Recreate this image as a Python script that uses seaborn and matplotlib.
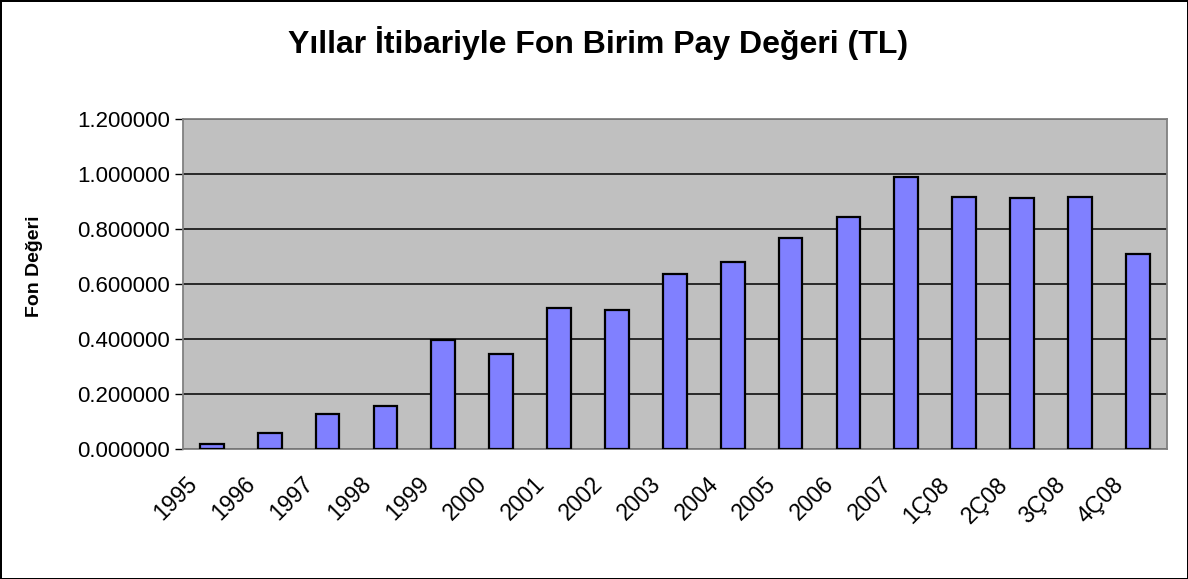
import pandas as pd
import seaborn as sns
import matplotlib.pyplot as plt
from matplotlib.ticker import FormatStrFormatter, FixedLocator
from matplotlib.transforms import ScaledTranslation

# Fund unit share values by period
periods = ['1995', '1996', '1997', '1998', '1999', '2000', '2001', '2002', '2003',
           '2004', '2005', '2006', '2007', '1Ç08', '2Ç08', '3Ç08', '4Ç08']
values = [0.020, 0.059, 0.129, 0.158, 0.397, 0.347, 0.512, 0.506, 0.637,
          0.679, 0.767, 0.845, 0.990, 0.918, 0.912, 0.918, 0.709]
y_ticks = [0.0, 0.2, 0.4, 0.6, 0.8, 1.0, 1.2]

df = pd.DataFrame({'period': periods, 'value': values})

sns.set_style('white')
plt.rcParams['font.family'] = ['Liberation Sans', 'DejaVu Sans']
plt.rcParams['text.color'] = 'black'
plt.rcParams['xtick.color'] = 'black'
plt.rcParams['ytick.color'] = 'black'
plt.rcParams['axes.labelcolor'] = 'black'

fig = plt.figure(figsize=(11.88, 5.79), dpi=100, linewidth=2, edgecolor='black')
ax = fig.add_axes([0.154, 0.2245, 0.828, 0.570])
ax.set_facecolor('#C0C0C0')

sns.barplot(data=df, x='period', y='value', color='#8080FF', saturation=1,
            edgecolor='black', linewidth=1.6, width=0.41, ax=ax, zorder=3)

ax.set_xlim(-0.5, len(periods) - 0.5)
ax.set_ylim(0, 1.2)
ax.set_yticks(y_ticks)
ax.yaxis.set_major_formatter(FormatStrFormatter('%.6f'))
ax.grid(axis='y', color='black', linewidth=1.1, zorder=1)
ax.set_axisbelow(True)

# tick marks between categories, like the original
ax.xaxis.set_minor_locator(FixedLocator([i - 0.5 for i in range(len(periods) + 1)]))
ax.tick_params(axis='x', which='major', length=0, pad=17)
ax.tick_params(axis='x', which='minor', length=7, width=1, color='#808080', direction='out')
ax.tick_params(axis='y', which='major', length=6, width=1, color='black', direction='out',
               left=True, labelsize=16)
ax.set_xticks(range(len(periods)))
ax.set_xticklabels(periods, rotation=45, ha='right', rotation_mode='anchor', fontsize=16.5)
shift = ScaledTranslation(-26 / 100, 0, fig.dpi_scale_trans)
for lab in ax.get_xticklabels():
    lab.set_transform(lab.get_transform() + shift)

for side in ['left', 'bottom', 'top', 'right']:
    ax.spines[side].set_visible(True)
    ax.spines[side].set_color('#808080')
    ax.spines[side].set_linewidth(1.3)

ax.set_xlabel('')
ax.set_ylabel('Fon Değeri', fontsize=14, fontweight='bold')
ax.yaxis.set_label_coords(-0.142, 0.555)
fig.suptitle('Yıllar İtibariyle Fon Birim Pay Değeri (TL)', fontsize=23,
             fontweight='bold', x=0.503, y=0.955)

plt.savefig('out.png', dpi=100)
